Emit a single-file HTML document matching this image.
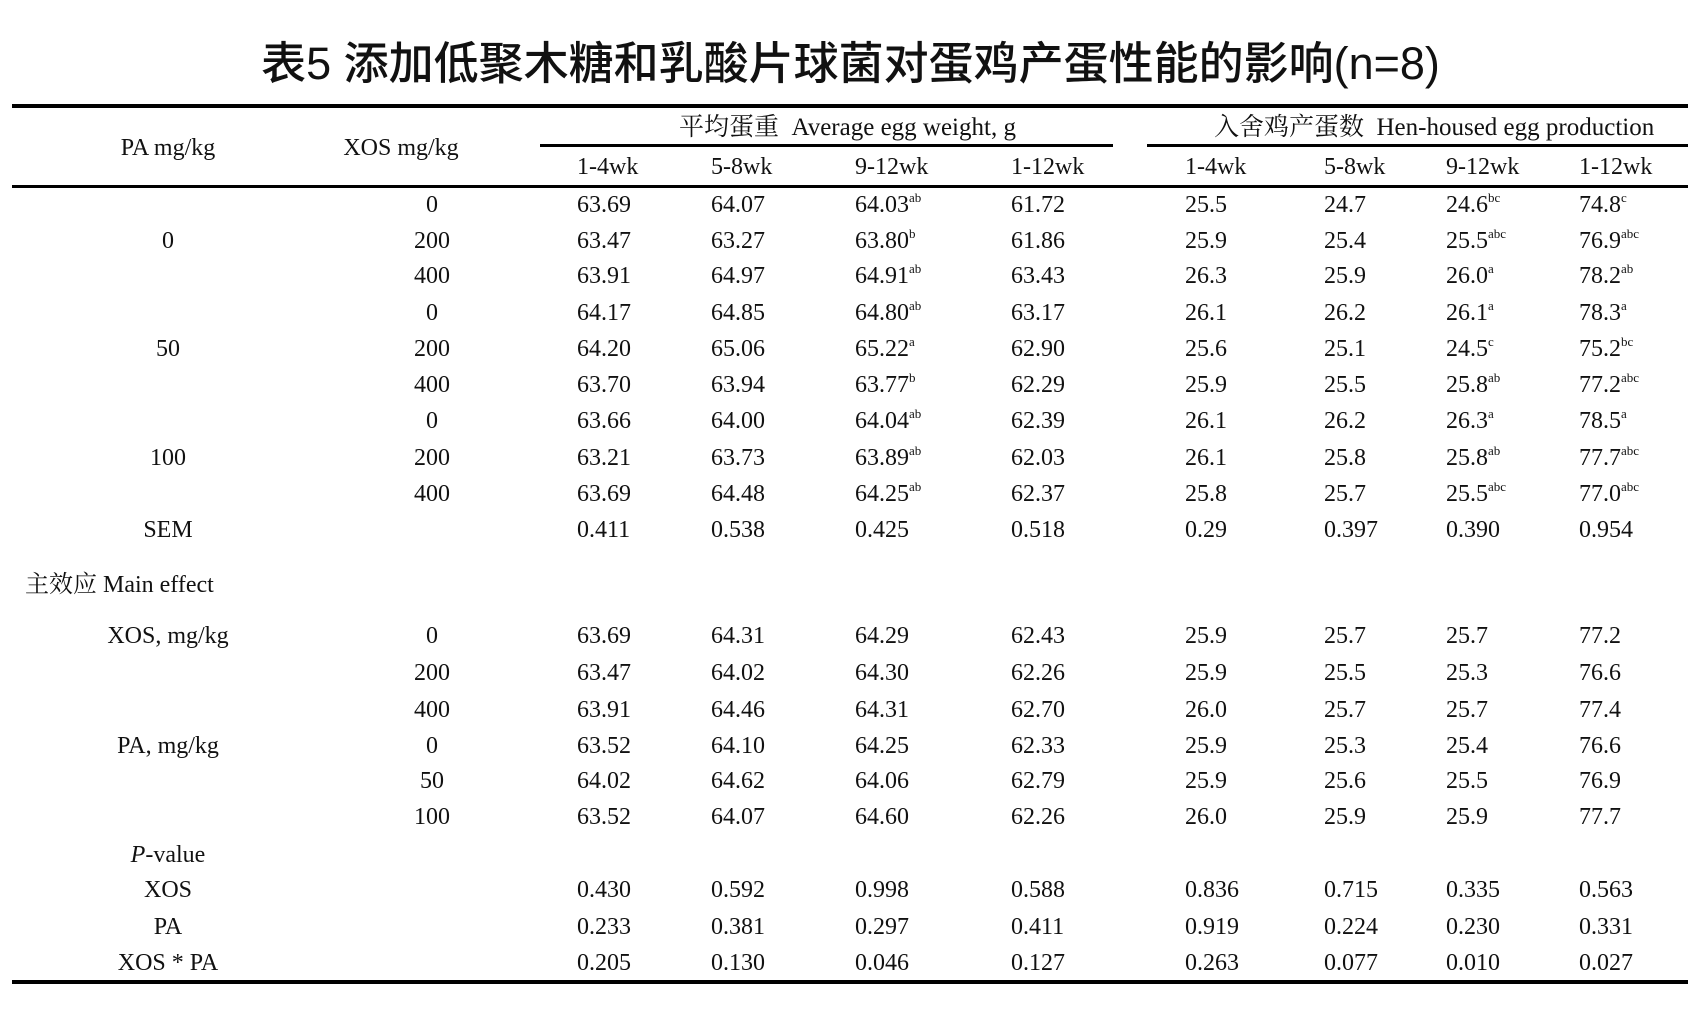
<!DOCTYPE html>
<html><head><meta charset="utf-8"><style>
body{margin:0;width:1701px;height:1020px;background:#fff;position:relative;overflow:hidden;font-family:"Liberation Serif","Noto Serif CJK SC",serif;color:#111}
.t{position:absolute;font-size:24px;line-height:30px;height:30px;white-space:nowrap}
.c{transform:translateX(-50%)}
sup{font-size:13px;vertical-align:0;position:relative;top:-10px}
.r{position:absolute;background:#000}
h1{position:absolute;left:0;width:1701px;top:37px;margin:0;text-align:center;font:500 45px/54px "Liberation Sans","Noto Sans CJK SC",sans-serif}
</style></head><body>
<h1>表5 添加低聚木糖和乳酸片球菌对蛋鸡产蛋性能的影响(n=8)</h1>
<div class="r" style="left:12px;width:1676px;top:104px;height:4px"></div>
<div class="r" style="left:540px;width:573px;top:144px;height:3px"></div>
<div class="r" style="left:1147px;width:541px;top:144px;height:3px"></div>
<div class="r" style="left:12px;width:1676px;top:185px;height:3px"></div>
<div class="r" style="left:12px;width:1676px;top:980px;height:4px"></div>
<div class="t" style="left:679px;top:113px;font-size:25px">平均蛋重&nbsp; Average egg weight, g</div>
<div class="t" style="left:1214px;top:113px;font-size:25px">入舍鸡产蛋数&nbsp; Hen-housed egg production</div>
<div class="t c" style="left:168px;top:133px">PA mg/kg</div>
<div class="t c" style="left:401px;top:133px">XOS mg/kg</div>
<div id="g"></div>
<script>
var xs=[577,711,855,1011,1185,1324,1446,1579];
var H=["1-4wk","5-8wk","9-12wk","1-12wk","1-4wk","5-8wk","9-12wk","1-12wk"];
var out="";
function T(x,y,s,c){out+='<div class="t'+(c?' c':'')+'" style="left:'+x+'px;top:'+(y-15)+'px">'+s+'</div>';}
H.forEach(function(h,i){T(xs[i],167,h)});
function S(v){return v.replace(/\^(\w+)/,'<sup>$1</sup>')}
var rows=[
[205,"","0","63.69 64.07 64.03^ab 61.72 25.5 24.7 24.6^bc 74.8^c"],
[241,"0","200","63.47 63.27 63.80^b 61.86 25.9 25.4 25.5^abc 76.9^abc"],
[276,"","400","63.91 64.97 64.91^ab 63.43 26.3 25.9 26.0^a 78.2^ab"],
[313,"","0","64.17 64.85 64.80^ab 63.17 26.1 26.2 26.1^a 78.3^a"],
[349,"50","200","64.20 65.06 65.22^a 62.90 25.6 25.1 24.5^c 75.2^bc"],
[385,"","400","63.70 63.94 63.77^b 62.29 25.9 25.5 25.8^ab 77.2^abc"],
[421,"","0","63.66 64.00 64.04^ab 62.39 26.1 26.2 26.3^a 78.5^a"],
[458,"100","200","63.21 63.73 63.89^ab 62.03 26.1 25.8 25.8^ab 77.7^abc"],
[494,"","400","63.69 64.48 64.25^ab 62.37 25.8 25.7 25.5^abc 77.0^abc"],
[530,"SEM","","0.411 0.538 0.425 0.518 0.29 0.397 0.390 0.954"],
[636,"XOS, mg/kg","0","63.69 64.31 64.29 62.43 25.9 25.7 25.7 77.2"],
[673,"","200","63.47 64.02 64.30 62.26 25.9 25.5 25.3 76.6"],
[710,"","400","63.91 64.46 64.31 62.70 26.0 25.7 25.7 77.4"],
[746,"PA, mg/kg","0","63.52 64.10 64.25 62.33 25.9 25.3 25.4 76.6"],
[781,"","50","64.02 64.62 64.06 62.79 25.9 25.6 25.5 76.9"],
[817,"","100","63.52 64.07 64.60 62.26 26.0 25.9 25.9 77.7"],
[890,"XOS","","0.430 0.592 0.998 0.588 0.836 0.715 0.335 0.563"],
[927,"PA","","0.233 0.381 0.297 0.411 0.919 0.224 0.230 0.331"],
[963,"XOS * PA","","0.205 0.130 0.046 0.127 0.263 0.077 0.010 0.027"]];
rows.forEach(function(r){
 if(r[1])T(168,r[0],r[1],1);
 if(r[2])T(432,r[0],r[2],1);
 r[3].split(" ").forEach(function(v,i){T(xs[i],r[0],S(v))});
});
T(25,585,"主效应 Main effect");
T(168,855,"<i>P</i>-value",1);
document.getElementById("g").innerHTML=out;
</script>
</body></html>
